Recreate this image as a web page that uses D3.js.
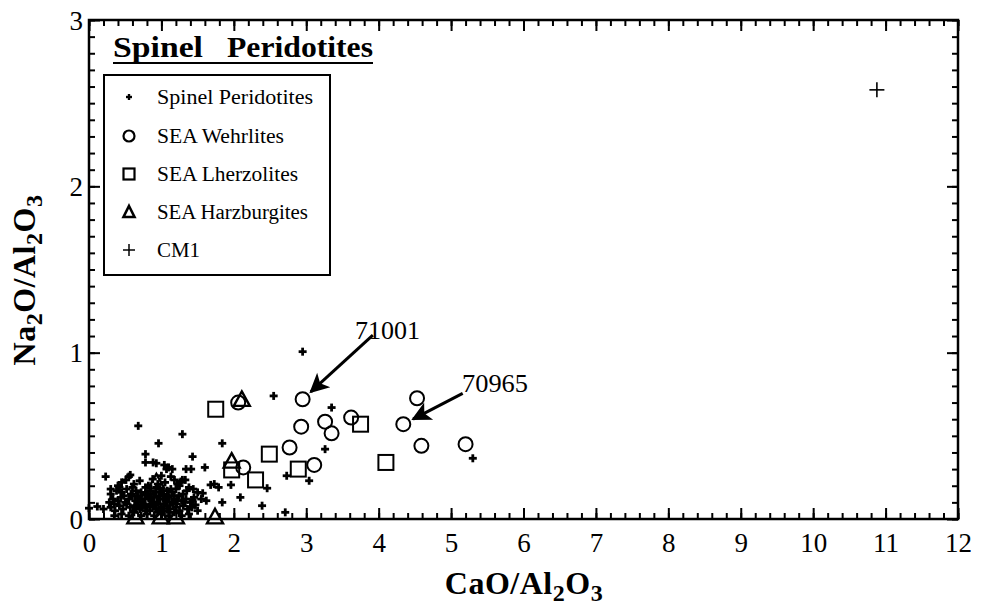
<!DOCTYPE html>
<html>
<head>
<meta charset="utf-8">
<script src="https://cdn.jsdelivr.net/npm/d3@7"></script>
<style>
  html, body { margin: 0; padding: 0; background: #fff; }
  svg { display: block; }
  text { font-family: "Liberation Serif", "Times New Roman", serif; fill: #000; }
</style>
</head>
<body>
<div id="chart"></div>
<script>
// Na2O/Al2O3 vs CaO/Al2O3 — spinel peridotites

const xTicks = [0, 1, 2, 3, 4, 5, 6, 7, 8, 9, 10, 11, 12];
const yTicks = [0, 1, 2, 3];

// Spinel peridotites (small crosses)
const spinel = [
  [0.68,0.56],[0.96,0.455],[1.84,0.455],[0.78,0.39],[0.78,0.34],[0.93,0.335],[0.885,0.34],
  [1.43,0.375],[1.60,0.31],[1.34,0.30],[1.41,0.30],[1.29,0.51],[0.23,0.255],[0.55,0.255],
  [0.51,0.235],[0.57,0.265],[0.30,0.18],[0.115,0.075],[0.0,0.065],[2.46,0.185],[2.09,0.13],
  [1.84,0.10],[2.39,0.08],[1.96,0.205],[1.73,0.21],[1.79,0.19],[1.68,0.205],[1.57,0.155],
  [1.43,0.115],[1.47,0.085],[2.95,1.006],[2.55,0.74],[3.35,0.67],[3.26,0.42],[2.73,0.26],
  [3.04,0.23],[2.71,0.04],[5.30,0.365],[1.10,0.31],[1.04,0.325],[1.13,0.255],[1.18,0.235],
  [1.29,0.235],[1.38,0.19],[1.33,0.235],[1.27,0.225],[1.07,0.30],[1.15,0.30],
  [0.40,0.20],[0.45,0.22],[0.62,0.21],[0.70,0.23],[0.82,0.20],[0.88,0.24],[0.95,0.21],
  [1.00,0.26],[1.05,0.22],[1.22,0.21],[1.25,0.20],
  [0.30,0.15],[0.38,0.17],[0.45,0.16],[0.52,0.18],[0.58,0.15],[0.65,0.17],[0.72,0.16],
  [0.78,0.19],[0.85,0.17],[0.92,0.16],[0.98,0.18],[1.03,0.15],[1.08,0.17],[1.15,0.16],
  [1.20,0.18],[1.30,0.15],[1.35,0.17],[1.50,0.16],
  [0.28,0.10],[0.33,0.12],[0.40,0.11],[0.44,0.13],[0.50,0.10],[0.55,0.12],[0.60,0.14],
  [0.64,0.11],[0.68,0.13],[0.74,0.10],[0.77,0.12],[0.82,0.14],[0.86,0.11],[0.90,0.13],
  [0.94,0.10],[0.98,0.12],[1.02,0.14],[1.06,0.11],[1.10,0.13],[1.14,0.10],[1.18,0.12],
  [1.24,0.14],[1.28,0.11],[1.34,0.12],[1.40,0.10],[1.45,0.13],[1.55,0.12],[1.62,0.11],
  [0.20,0.06],[0.30,0.07],[0.36,0.05],[0.42,0.08],[0.47,0.06],[0.52,0.09],[0.57,0.07],
  [0.61,0.05],[0.66,0.08],[0.70,0.06],[0.75,0.09],[0.80,0.07],[0.84,0.05],[0.88,0.08],
  [0.92,0.06],[0.96,0.09],[1.00,0.07],[1.04,0.05],[1.08,0.08],[1.12,0.06],[1.16,0.09],
  [1.20,0.07],[1.25,0.05],[1.30,0.08],[1.36,0.06],[1.42,0.07],[1.50,0.05],
  [0.35,0.02],[0.45,0.03],[0.55,0.02],[0.62,0.04],[0.72,0.02],[0.80,0.03],[0.90,0.02],
  [1.00,0.03],[1.10,0.02],[1.18,0.04],[1.28,0.02],[1.38,0.03],
  [0.60,0.19],[0.67,0.14],[0.71,0.12],[0.79,0.15],[0.84,0.12],[0.89,0.15],[0.93,0.19],
  [0.97,0.14],[1.01,0.17],[1.05,0.12],[1.09,0.14],[1.13,0.18],[1.17,0.14],[1.22,0.11],
  [0.63,0.08],[0.73,0.07],[0.78,0.05],[0.86,0.09],[0.95,0.04],[1.03,0.09],[1.11,0.04],
  [1.21,0.09],[0.48,0.14],[0.35,0.09],[0.42,0.19],[1.32,0.10],[1.44,0.18]
];

// SEA wehrlites (circles)
const wehrlites = [
  [2.06,0.70],[2.13,0.31],[2.77,0.43],[2.93,0.555],[2.95,0.72],[3.11,0.325],[3.26,0.585],
  [3.35,0.515],[3.62,0.61],[4.34,0.57],[4.53,0.726],[4.59,0.44],[5.20,0.45]
];

// SEA lherzolites (squares)
const lherzolites = [
  [1.75,0.66],[1.97,0.295],[2.49,0.39],[2.30,0.235],[2.89,0.30],[3.75,0.57],[4.10,0.34]
];

// SEA harzburgites (triangles)
const harzburgites = [
  [2.11,0.716],[1.97,0.345],[1.74,0.01],[0.93,0.22],[0.78,0.12],[0.64,0.01],[0.99,0.01],
  [1.20,0.01],[1.00,0.10]
];

// CM1
const cm1 = [[10.88,2.58]];

// labelled samples: label, sample point, arrow tail (data units)
const notes = [
  { label: "71001", px: 2.95, py: 0.72, tx: 3.92, ty: 1.105 },
  { label: "70965", px: 4.34, py: 0.57, tx: 5.16, ty: 0.755 }
];

const legendItems = ["Spinel Peridotites", "SEA Wehrlites", "SEA Lherzolites", "SEA Harzburgites", "CM1"];

const W = 982, H = 607;
const margin = { top: 20, right: 24, bottom: 88, left: 89 };

const svg = d3.select("#chart").append("svg").attr("width", W).attr("height", H);

const x = d3.scaleLinear().domain([0, 12]).range([margin.left, W - margin.right]);
const y = d3.scaleLinear().domain([0, 3]).range([H - margin.bottom, margin.top]);

const xMinor = d3.range(0, 12.001, 0.2);
const yMinor = d3.range(0, 3.001, 0.1);

function tickAxis(axisFn, scale, values, size, labels) {
  return axisFn(scale).tickValues(values).tickSize(size).tickSizeOuter(0)
    .tickFormat(labels ? d3.format("d") : "");
}

function styleAxis(g) {
  g.select(".domain").remove();
  g.selectAll(".tick line").attr("stroke", "#000").attr("stroke-width", 2);
}

const bottomY = y(0), topY = y(3), leftX = x(0), rightX = x(12);

// bottom
svg.append("g").attr("transform", `translate(0,${bottomY})`)
  .call(tickAxis(d3.axisBottom, x, xMinor, -6, false)).call(styleAxis);
const xb = svg.append("g").attr("transform", `translate(0,${bottomY})`)
  .call(tickAxis(d3.axisBottom, x, xTicks, -11, true)).call(styleAxis);
xb.selectAll(".tick text").attr("y", 14).attr("dy", "0.71em")
  .attr("font-size", 27).attr("font-family", "Liberation Serif, serif");

// top
svg.append("g").attr("transform", `translate(0,${topY})`)
  .call(tickAxis(d3.axisTop, x, xMinor, -6, false)).call(styleAxis);
svg.append("g").attr("transform", `translate(0,${topY})`)
  .call(tickAxis(d3.axisTop, x, xTicks, -11, false)).call(styleAxis);

// left
svg.append("g").attr("transform", `translate(${leftX},0)`)
  .call(tickAxis(d3.axisLeft, y, yMinor, -6, false)).call(styleAxis);
const yl = svg.append("g").attr("transform", `translate(${leftX},0)`)
  .call(tickAxis(d3.axisLeft, y, yTicks, -11, true)).call(styleAxis);
yl.selectAll(".tick text").attr("x", -6).attr("dy", "0.34em")
  .attr("font-size", 27).attr("font-family", "Liberation Serif, serif");

// right
svg.append("g").attr("transform", `translate(${rightX},0)`)
  .call(tickAxis(d3.axisRight, y, yMinor, -6, false)).call(styleAxis);
svg.append("g").attr("transform", `translate(${rightX},0)`)
  .call(tickAxis(d3.axisRight, y, yTicks, -11, false)).call(styleAxis);

// frame
svg.append("rect")
  .attr("x", leftX).attr("y", topY)
  .attr("width", rightX - leftX).attr("height", bottomY - topY)
  .attr("fill", "none").attr("stroke", "#000").attr("stroke-width", 2.5);

// axis titles
svg.append("text")
  .attr("x", 524).attr("y", 594)
  .attr("text-anchor", "middle").attr("font-size", 32).attr("font-weight", "bold")
  .attr("letter-spacing", 0.5)
  .html('CaO/Al<tspan dy="7" font-size="24">2</tspan><tspan dy="-7">O</tspan><tspan dy="7" font-size="24">3</tspan>');

svg.append("text")
  .attr("transform", `translate(35,280) rotate(-90)`)
  .attr("text-anchor", "middle").attr("font-size", 32).attr("font-weight", "bold")
  .attr("letter-spacing", 0.5)
  .html('Na<tspan dy="7" font-size="24">2</tspan><tspan dy="-7">O/Al</tspan><tspan dy="7" font-size="24">2</tspan><tspan dy="-7">O</tspan><tspan dy="7" font-size="24">3</tspan>');

// symbols
const marks = svg.append("g");

function cross(g, r, w) {
  g.append("line").attr("x1", -r).attr("x2", r).attr("stroke", "#000").attr("stroke-width", w);
  g.append("line").attr("y1", -r).attr("y2", r).attr("stroke", "#000").attr("stroke-width", w);
}
const drawSym = {
  spinel: g => cross(g, 4, 2.8),
  circle: g => g.append("circle").attr("r", 7).attr("fill", "none").attr("stroke", "#000").attr("stroke-width", 2),
  square: g => g.append("rect").attr("x", -7.5).attr("y", -7.5).attr("width", 15).attr("height", 15)
    .attr("fill", "none").attr("stroke", "#000").attr("stroke-width", 2),
  triangle: g => g.append("path").attr("d", "M0,-8.5L8,6L-8,6Z")
    .attr("fill", "none").attr("stroke", "#000").attr("stroke-width", 2.4),
  cm1: g => cross(g, 7.5, 1.6)
};

function plot(data, sym) {
  marks.append("g").selectAll("g").data(data).join("g")
    .attr("transform", d => `translate(${x(d[0])},${y(d[1])})`)
    .each(function () { drawSym[sym](d3.select(this)); });
}
plot(spinel, "spinel");
plot(lherzolites, "square");
plot(wehrlites, "circle");
plot(harzburgites, "triangle");
plot(cm1, "cm1");

// arrows
svg.append("defs").append("marker")
  .attr("id", "head").attr("viewBox", "0 0 10 10").attr("refX", 9).attr("refY", 5)
  .attr("markerWidth", 8).attr("markerHeight", 6.5).attr("markerUnits", "strokeWidth")
  .attr("orient", "auto")
  .append("path").attr("d", "M0,0L10,5L0,10L2.5,5Z").attr("fill", "#000");

notes.forEach(n => {
  const x0 = x(n.tx), y0 = y(n.ty);
  const sx = x(n.px), sy = y(n.py);
  const ang = Math.atan2(sy - y0, sx - x0);
  svg.append("line")
    .attr("x1", x0).attr("y1", y0)
    .attr("x2", sx - 11 * Math.cos(ang)).attr("y2", sy - 11 * Math.sin(ang))
    .attr("stroke", "#000").attr("stroke-width", 3).attr("marker-end", "url(#head)");
});
svg.append("text").attr("x", 355).attr("y", 339).attr("font-size", 25)
  .attr("textLength", 65).attr("lengthAdjust", "spacingAndGlyphs").text(notes[0].label);
svg.append("text").attr("x", 462).attr("y", 392).attr("font-size", 25)
  .attr("textLength", 66).attr("lengthAdjust", "spacingAndGlyphs").text(notes[1].label);

// title
const title = svg.append("g");
title.append("text").attr("x", 113).attr("y", 57)
  .attr("font-size", 29).attr("font-weight", "bold")
  .attr("textLength", 90).attr("lengthAdjust", "spacingAndGlyphs").text("Spinel");
title.append("text").attr("x", 227).attr("y", 57)
  .attr("font-size", 29).attr("font-weight", "bold")
  .attr("textLength", 146).attr("lengthAdjust", "spacingAndGlyphs").text("Peridotites");
title.append("line").attr("x1", 113).attr("x2", 373).attr("y1", 63).attr("y2", 63)
  .attr("stroke", "#000").attr("stroke-width", 2.2);

// legend
const lg = svg.append("g");
lg.append("rect").attr("x", 104).attr("y", 75).attr("width", 226).attr("height", 200)
  .attr("fill", "#fff").attr("stroke", "#000").attr("stroke-width", 2);
const legSyms = ["spinel", "circle", "square", "triangle", "cm1"];
const legWidths = [156, 127, 141, 151, 43];
const legY = [97, 136, 174, 212, 250];
legendItems.forEach((name, i) => {
  const yy = legY[i];
  const g = lg.append("g").attr("transform", `translate(129,${yy})`);
  if (legSyms[i] === "cm1") cross(g, 6, 1.5);
  else if (legSyms[i] === "circle") g.append("circle").attr("r", 5.5).attr("fill", "none").attr("stroke", "#000").attr("stroke-width", 2.2);
  else if (legSyms[i] === "square") g.append("rect").attr("x", -5.5).attr("y", -5.5).attr("width", 11).attr("height", 11).attr("fill", "none").attr("stroke", "#000").attr("stroke-width", 2.2);
  else if (legSyms[i] === "triangle") g.append("path").attr("d", "M0,-6L5.5,5L-5.5,5Z").attr("fill", "none").attr("stroke", "#000").attr("stroke-width", 2.6);
  else cross(g, 3, 2.4);
  lg.append("text").attr("x", 157).attr("y", yy).attr("dy", "0.35em")
    .attr("font-size", 20).attr("textLength", legWidths[i]).attr("lengthAdjust", "spacingAndGlyphs")
    .text(name);
});
</script>
</body>
</html>
